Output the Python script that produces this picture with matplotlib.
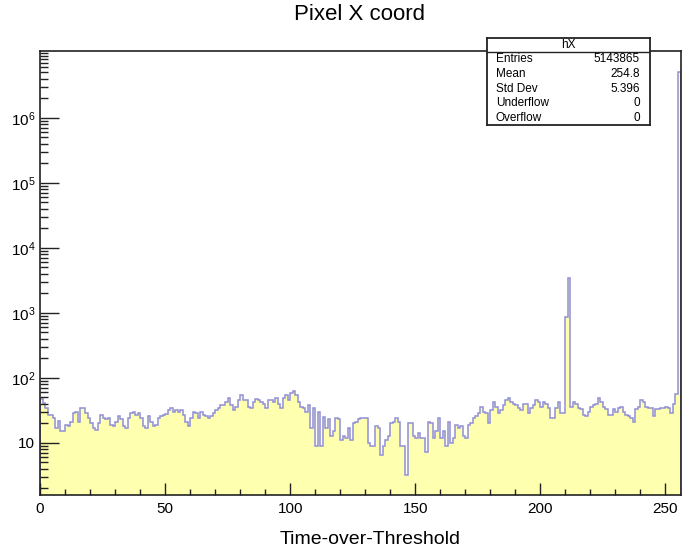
import numpy as np
import matplotlib
matplotlib.use("Agg")
import matplotlib.pyplot as plt
from matplotlib.ticker import FixedLocator, FixedFormatter, MultipleLocator

plt.rcParams['font.family'] = ['Liberation Sans', 'DejaVu Sans']
plt.rcParams['mathtext.fontset'] = 'custom'
plt.rcParams['mathtext.rm'] = 'Liberation Sans'
plt.rcParams['mathtext.it'] = 'Liberation Sans:italic'

# hX: counts per ToT bin, 256 bins of width 1
counts = [
    47, 41, 35, 27, 27, 24, 17, 22, 15, 15, 19, 18, 21, 29, 30, 21,
    35, 35, 29, 24, 20, 17, 16, 20, 27, 24, 23, 24, 19, 18, 21, 26,
    23, 18, 17, 24, 29, 30, 27, 29, 24, 18, 17, 26, 21, 18, 19, 24,
    26, 27, 28, 32, 35, 30, 32, 30, 32, 27, 21, 18, 24, 30, 29, 24,
    30, 27, 26, 24, 26, 29, 32, 35, 38, 38, 43, 49, 38, 32, 36, 46,
    55, 46, 46, 36, 35, 43, 48, 46, 43, 40, 35, 46, 46, 43, 49, 40,
    35, 49, 55, 46, 59, 63, 54, 43, 36, 35, 30, 38, 17, 35, 9, 30,
    9, 25, 17, 23, 13, 15, 24, 23, 11, 13, 12, 17, 11, 20, 21, 23,
    24, 24, 24, 10, 9, 9, 18, 17, 6.5, 9, 11, 13, 20, 21, 24, 21,
    9, 9, 3.2, 20, 20, 13, 12, 14, 12, 12, 7.3, 21, 20, 12, 15, 24,
    12, 15, 9, 21, 10, 12, 19, 17, 18, 13, 12, 19, 20, 24, 26, 29,
    36, 30, 29, 20, 32, 43, 36, 29, 32, 38, 46, 49, 43, 40, 38, 35,
    32, 40, 40, 29, 35, 38, 46, 43, 36, 43, 40, 35, 24, 24, 35, 43,
    29, 29, 850, 3500, 36, 43, 40, 35, 33, 27, 26, 30, 36, 38, 40, 49,
    43, 36, 33, 27, 27, 33, 30, 35, 36, 30, 27, 26, 24, 21, 33, 36,
    46, 43, 36, 35, 35, 26, 33, 33, 35, 35, 36, 35, 29, 40, 56, 5132600,
]
edges = np.arange(len(counts) + 1)

stat_names = ["Entries", "Mean", "Std Dev", "Underflow", "Overflow"]
stat_values = ["5143865", "254.8", "5.396", "0", "0"]

ytick_vals = [1e1, 1e2, 1e3, 1e4, 1e5, 1e6]
ytick_labels = ["10", "$10^{2}$", "$10^{3}$", "$10^{4}$", "$10^{5}$", "$10^{6}$"]

W, H = 682, 555
fig = plt.figure(figsize=(W / 100, H / 100), dpi=100)
fig.patch.set_facecolor("white")

x0, x1, y0, y1 = 40, 680.5, 51, 495
ax = fig.add_axes([x0 / W, 1 - y1 / H, (x1 - x0) / W, (y1 - y0) / H])

ax.stairs(counts, edges, baseline=1, fill=True, color="#ffffb0", lw=0)
ax.stairs(counts, edges, baseline=1, color="#9090d6", lw=1.1)

ax.set_yscale("log")
ax.set_xlim(0, 256)
ax.set_ylim(1.58, 1.07e7)

ax.xaxis.set_major_locator(MultipleLocator(50))
ax.xaxis.set_minor_locator(MultipleLocator(10))
ax.yaxis.set_major_locator(FixedLocator(ytick_vals))
ax.yaxis.set_major_formatter(FixedFormatter(ytick_labels))
minors = [m * 10.0 ** k for k in range(0, 7) for m in range(2, 10)] + [1e7]
ax.yaxis.set_minor_locator(FixedLocator(minors))
ax.yaxis.set_minor_formatter(FixedFormatter([""] * len(minors)))

ax.tick_params(axis="both", which="both", direction="in", top=False, right=False,
               color="#222222", width=1.0)
ax.tick_params(axis="x", which="major", length=8.6, pad=5, labelsize=11)
ax.tick_params(axis="x", which="minor", length=4.3)
ax.tick_params(axis="y", which="major", length=14, pad=3.5, labelsize=11)
ax.tick_params(axis="y", which="minor", length=5.8)
for sp in ax.spines.values():
    sp.set_linewidth(1.2)
    sp.set_color("#222222")

fig.text(360 / W, 1 - 15 / H, "Pixel X coord", ha="center", va="center", fontsize=16)
fig.text(370 / W, 1 - 540 / H, "Time-over-Threshold", ha="center", va="center", fontsize=14)

# statistics box
bx0, bx1, by0, by1 = 487, 650, 38, 125
sax = fig.add_axes([bx0 / W, 1 - by1 / H, (bx1 - bx0) / W, (by1 - by0) / H])
sax.set_xlim(bx0, bx1)
sax.set_ylim(by1, by0)
sax.set_xticks([])
sax.set_yticks([])
for sp in sax.spines.values():
    sp.set_linewidth(1.3)
    sp.set_color("#222222")
sax.plot([bx0, bx1], [51.5, 51.5], color="#222222", lw=1.0)
sax.text((bx0 + bx1) / 2, 45, "hX", ha="center", va="center", fontsize=8.5)
for i, (name, val) in enumerate(zip(stat_names, stat_values)):
    yy = 59.5 + 14.6 * i
    sax.text(496, yy, name, ha="left", va="center", fontsize=8.5)
    sax.text(640, yy, val, ha="right", va="center", fontsize=8.5)

fig.savefig("out.png", dpi=100)
